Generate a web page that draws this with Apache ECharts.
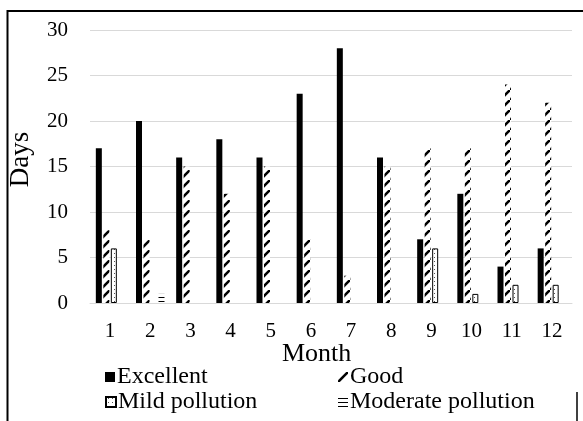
<!DOCTYPE html>
<html>
<head>
<meta charset="utf-8">
<script src="https://cdn.jsdelivr.net/npm/echarts@6/dist/echarts.min.js"></script>
<style>
html,body{margin:0;padding:0;background:#fff;}
#chart{width:583px;height:421px;}
</style>
</head>
<body>
<div id="chart"></div>
<script>
const months = ['1','2','3','4','5','6','7','8','9','10','11','12'];
const excellent = [17, 20, 16, 18, 16, 23, 28, 16, 7, 12, 4, 6];
const good = [8, 7, 15, 12, 15, 7, 3, 15, 17, 17, 24, 22];
const mild = [6, 0, 0, 0, 0, 0, 0, 0, 6, 1, 2, 2];
const moderate = [0, 1, 0, 0, 0, 0, 0, 0, 0, 0, 0, 0];
const yTicks = [0, 5, 10, 15, 20, 25, 30];

function tile(w, h, draw) {
  const c = document.createElement('canvas');
  c.width = w; c.height = h;
  const ctx = c.getContext('2d');
  ctx.fillStyle = '#fff';
  ctx.fillRect(0, 0, w, h);
  draw(ctx);
  return { image: c, repeat: 'repeat' };
}
const goodPat = tile(10, 10, ctx => {
  ctx.strokeStyle = '#000';
  ctx.lineWidth = 2.6;
  ctx.beginPath();
  ctx.moveTo(-2, 12); ctx.lineTo(12, -2);
  ctx.stroke();
});
const mildPat = tile(4, 4, ctx => {
  ctx.fillStyle = '#555';
  ctx.fillRect(2, 1, 1, 1);
});
const modPat = tile(4, 4, ctx => {
  ctx.fillStyle = '#000';
  ctx.fillRect(0, 1, 4, 1);
});
const nz = arr => arr.map(v => v === 0 ? '-' : v);

const serif = '"Liberation Serif", "Times New Roman", serif';
const chart = echarts.init(document.getElementById('chart'));
const legendBase = {
  orient: 'horizontal', itemWidth: 10, itemHeight: 10, itemGap: 0, icon: 'rect',
  textStyle: { fontFamily: serif, fontSize: 24, color: '#000', padding: [0, 0, 0, -3] },
  selectedMode: false
};
chart.setOption({
  animation: false,
  backgroundColor: '#fff',
  grid: { left: 90, right: 11, top: 30, bottom: 118, containLabel: false, outerBoundsMode: 'none' },
  xAxis: {
    type: 'category', data: months,
    axisLine: { lineStyle: { color: '#d9d9d9', width: 1 } },
    axisTick: { show: false },
    axisLabel: { fontFamily: serif, fontSize: 21, color: '#000', margin: 18 }
  },
  yAxis: {
    type: 'value', min: yTicks[0], max: yTicks[yTicks.length - 1], interval: 5,
    name: 'Days', nameLocation: 'middle', nameGap: 56,
    nameTextStyle: { fontFamily: serif, fontSize: 27, color: '#000', padding: [0, 0, 0, 14] },
    axisLine: { show: false }, axisTick: { show: false },
    splitLine: { lineStyle: { color: '#d9d9d9', width: 1 } },
    axisLabel: { fontFamily: serif, fontSize: 21, color: '#000', margin: 22 }
  },
  legend: [
    Object.assign({}, legendBase, { data: ['Excellent'], left: 100, top: 360 }),
    Object.assign({}, legendBase, { data: ['Good'], left: 333, top: 360 }),
    Object.assign({}, legendBase, { data: ['Mild pollution'], left: 100, top: 385 }),
    Object.assign({}, legendBase, { data: ['Moderate pollution'], left: 333, top: 385 })
  ],
  graphic: [
    { type: 'text', left: 317 - 35, top: 341, style: { text: 'Month', font: '26px ' + serif, fill: '#000' } },
    { type: 'line', shape: { x1: 7, y1: 11, x2: 583, y2: 11 }, style: { stroke: '#000', lineWidth: 2 } },
    { type: 'line', shape: { x1: 7.5, y1: 10, x2: 7.5, y2: 421 }, style: { stroke: '#000', lineWidth: 2 } },
    { type: 'line', shape: { x1: 577, y1: 392, x2: 577, y2: 421 }, style: { stroke: '#000', lineWidth: 1.5 } }
  ],
  series: [
    { name: 'Excellent', type: 'bar', data: excellent, barWidth: 6, barGap: '25%',
      itemStyle: { color: '#000' } },
    { name: 'Good', type: 'bar', data: good, barWidth: 6, barGap: '25%',
      itemStyle: { color: goodPat } },
    { name: 'Mild pollution', type: 'bar', data: nz(mild), barWidth: 6, barGap: '25%',
      itemStyle: { color: mildPat, borderColor: '#000', borderWidth: 1 } },
    { name: 'Moderate pollution', type: 'bar', data: nz(moderate), barWidth: 6, barGap: '25%',
      itemStyle: { color: modPat } }
  ]
});
</script>
</body>
</html>
